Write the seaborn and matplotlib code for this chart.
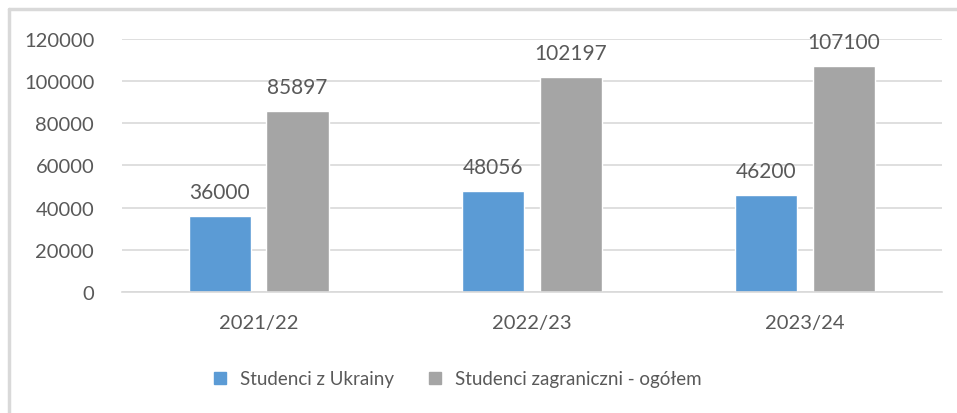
import pandas as pd
import matplotlib.pyplot as plt
import seaborn as sns
from matplotlib.lines import Line2D

# Dane
lata = ['2021/22', '2022/23', '2023/24']
ukraina = [36000, 48056, 46200]
ogolem = [85897, 102197, 107100]
serie = ['Studenci z Ukrainy', 'Studenci zagraniczni - ogółem']
kolory = ['#5b9bd5', '#a5a5a5']

df = pd.DataFrame({
    'rok': lata * 2,
    'wartosc': ukraina + ogolem,
    'seria': [serie[0]] * 3 + [serie[1]] * 3,
})

sns.set_style('white')
plt.rcParams['font.family'] = ['Lato', 'DejaVu Sans']
tekst = '#595959'

fig = plt.figure(figsize=(9.57, 4.14), dpi=100)
ax = fig.add_axes([0.1275, 0.2923, 0.8565, 0.6111])

sns.barplot(data=df, x='rok', y='wartosc', hue='seria', palette=kolory,
            width=0.57, gap=0.2, ax=ax, legend=False, saturation=1)

for cont in ax.containers:
    ax.bar_label(cont, padding=10, fontsize=15, color=tekst)

ax.set_ylim(0, 120000)
ax.set_xlim(-0.5, 2.5)
ax.set_yticks(range(0, 120001, 20000))
ax.yaxis.grid(True, color='#d9d9d9', linewidth=1.2)
ax.set_axisbelow(True)
for s in ['top', 'right', 'left']:
    ax.spines[s].set_visible(False)
ax.spines['bottom'].set_color('#d9d9d9')
ax.spines['bottom'].set_linewidth(1.2)
ax.tick_params(axis='both', length=0, labelsize=14.5, colors=tekst)
ax.tick_params(axis='y', pad=20)
ax.tick_params(axis='x', pad=16)
ax.set_xlabel('')
ax.set_ylabel('')

uchwyty = [Line2D([0], [0], marker='s', linestyle='', markersize=9,
                  markerfacecolor=k, markeredgecolor=k) for k in kolory]
fig.legend(uchwyty, serie, loc='center', bbox_to_anchor=(0.472, 0.083),
           ncol=2, frameon=False, fontsize=13.5, labelcolor=tekst,
           handletextpad=0.05, columnspacing=1.2)

# Ramka wykresu (lewa i górna krawędź)
fig.add_artist(Line2D([9 / 957, 9 / 957], [0, 1 - 10 / 414], color='#d9d9d9', linewidth=2.5))
fig.add_artist(Line2D([9 / 957, 1], [1 - 10 / 414, 1 - 10 / 414], color='#d9d9d9', linewidth=2.5))

plt.savefig('out.png', dpi=100)
plt.close()
